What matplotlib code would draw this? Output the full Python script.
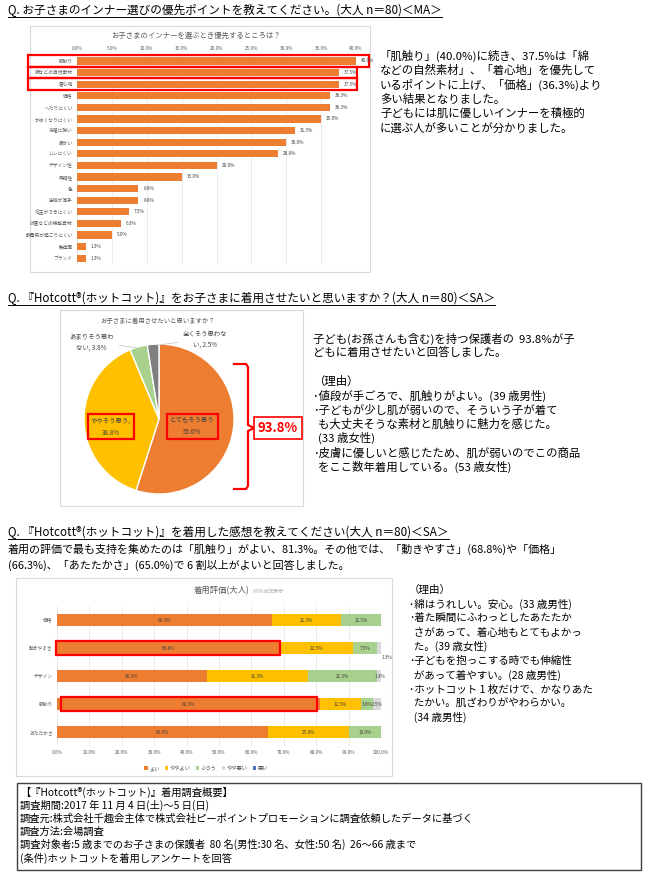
import matplotlib
matplotlib.use('Agg')
import matplotlib.pyplot as plt
from matplotlib.patches import Rectangle
import numpy as np

plt.rcParams['font.family'] = ['Noto Sans CJK JP', 'DejaVu Sans']

# ---------------- data ----------------
cats1 = ['肌触り', '綿などの自然素材', '着心地', '価格', 'へたりにくい', 'かゆくなりにくい',
         '洗濯に強い', '暖かい', 'ムレにくい', 'デザイン性', '伸縮性', '色', '生地が薄手',
         '毛玉ができにくい', '抗菌などの機能素材', '静電気が起こりにくい', '製造国', 'ブランド']
vals1 = [40.0, 37.5, 37.5, 36.3, 36.3, 35.0, 31.3, 30.0, 28.8, 20.0, 15.0, 8.8, 8.8,
         7.5, 6.3, 5.0, 1.3, 1.3]
ticks1 = [0, 5, 10, 15, 20, 25, 30, 35, 40]

pie_labels = ['とてもそう思う', 'ややそう思う', 'あまりそう思わない', '全くそう思わない']
pie_vals = [55.0, 38.8, 3.8, 2.5]

cats3 = ['価格', '動きやすさ', 'デザイン', '肌触り', 'あたたかさ']
series3 = ['よい', 'ややよい', 'ふつう', 'やや悪い', '悪い']
good = [66.3, 68.8, 46.3, 81.3, 65.0]
fairly_good = [21.3, 22.5, 31.3, 12.5, 25.0]
normal = [12.5, 7.5, 21.3, 3.8, 10.0]
fairly_bad = [0.0, 1.3, 1.3, 2.5, 0.0]
bad = [0.0, 0.0, 0.0, 0.0, 0.0]
ticks3 = [0, 10, 20, 30, 40, 50, 60, 70, 80, 90, 100]

ORANGE = '#ED7D31'
YELLOW = '#FFC000'
GREEN = '#A9D18E'
LGRAY = '#D9D9D9'
BLUE = '#4472C4'
DGRAY = '#7F7F7F'

W, H = 650, 894
fig = plt.figure(figsize=(6.5, 8.94), dpi=100)

def ax_px(x, y, w, h, **kw):
    return fig.add_axes([x / W, 1 - (y + h) / H, w / W, h / H], **kw)

# overlay in pixel coordinates
ov = ax_px(0, 0, W, H, zorder=0)
ov.set_xlim(0, W)
ov.set_ylim(H, 0)
ov.axis('off')

def txt(x, y, s, size=7.2, **kw):
    return ov.text(x, y, s, fontsize=size, va='center', ha=kw.pop('ha', 'left'),
                   color=kw.pop('color', '#000000'), **kw)

def box(x0, y0, x1, y1, ec='#D9D9D9', lw=0.8):
    ov.add_patch(Rectangle((x0, y0), x1 - x0, y1 - y0, fill=False, ec=ec, lw=lw))

underlined = []
HEAD = 8.4

# ---------------- section 1 ----------------
underlined.append(txt(8, 10, 'Q. お子さまのインナー選びの優先ポイントを教えてください。(大人 n＝80)＜MA＞', HEAD))
box(30, 26, 370, 272)
txt(196, 36, 'お子さまのインナーを選ぶとき優先するところは？', 5.3, ha='center', color='#595959')

ax1 = ax_px(77, 55.2, 279, 208.8)
y1 = np.arange(len(cats1))
ax1.barh(y1, vals1, height=0.62, color=ORANGE)
ax1.set_ylim(len(cats1) - 0.5, -0.5)
ax1.set_xlim(0, 40)
ax1.xaxis.tick_top()
ax1.set_xticks(ticks1)
ax1.set_xticklabels([f'{t:.1f}%' for t in ticks1])
ax1.set_yticks(y1)
ax1.set_yticklabels(cats1)
ax1.tick_params(axis='both', length=0, labelsize=3.4, colors='#595959', pad=3)
ax1.grid(axis='x', color='#E3E3E3', lw=0.5)
ax1.set_axisbelow(True)
for s in ax1.spines.values():
    s.set_visible(False)
ax1.patch.set_alpha(0)
for i, v in enumerate(vals1):
    ax1.text(v + 0.7, i, f'{v:.1f}%', fontsize=3.4, va='center', color='#404040')
# highlight boxes
for i, right in zip(range(3), [41.8, 40.2, 40.2]):
    ax1.add_patch(Rectangle((-7.0, i - 0.5), right + 7.0, 1.0, fill=False, ec='#FF0000',
                            lw=1.6, clip_on=False))

lines1 = ['「肌触り」(40.0%)に続き、37.5%は「綿',
          'などの自然素材」、「着心地」を優先して',
          'いるポイントに上げ、「価格」(36.3%)より',
          '多い結果となりました。',
          '子どもには肌に優しいインナーを積極的',
          'に選ぶ人が多いことが分かりました。']
for k, s in enumerate(lines1):
    txt(380, 56 + 14.4 * k, s, 8.2)

# ---------------- section 2 ----------------
underlined.append(txt(8, 298, 'Q. 『Hotcott®(ホットコット)』をお子さまに着用させたいと思いますか？(大人 n＝80)＜SA＞', HEAD))
box(60, 310, 303, 506)
txt(158, 321, 'お子さまに着用させたいと思いますか？', 4.6, ha='center', color='#595959')

ax2 = ax_px(84, 344, 150, 150)
wedges, _ = ax2.pie(pie_vals, colors=[ORANGE, YELLOW, GREEN, DGRAY], startangle=90,
                    counterclock=False, radius=1.0,
                    wedgeprops=dict(edgecolor='white', linewidth=1.0))
ax2.set_xlim(-1, 1)
ax2.set_ylim(-1, 1)
ax2.set_aspect('equal')
cum = np.cumsum([0] + pie_vals)
mids = [90 - 3.6 * (cum[i] + pie_vals[i] / 2) for i in range(4)]
# inner labels
inner_r = [0.45, 0.64]
inner_dy = [-0.03, -0.08]
for i in range(2):
    a = np.deg2rad(mids[i])
    x, y = inner_r[i] * np.cos(a), inner_r[i] * np.sin(a) + inner_dy[i]
    lab = pie_labels[i] + (',' if i == 1 else '') + f'\n{pie_vals[i]:.1f}%'
    ax2.text(x, y, lab, fontsize=4.6, ha='center', va='center', color='#404040',
             linespacing=1.6,
             bbox=dict(boxstyle='square,pad=0.45', fc='none', ec='#FF0000', lw=1.6))
# outer labels
outer_xy = [(-0.9, 1.03), (0.62, 1.07)]
outer_txt = ['あまりそう思わ\nない, 3.8%', '全くそう思わな\nい, 2.5%']
for j, i in enumerate([2, 3]):
    a = np.deg2rad(mids[i])
    ax2.annotate(outer_txt[j], xy=(0.98 * np.cos(a), 0.98 * np.sin(a)), xytext=outer_xy[j],
                 fontsize=4.6, ha='center', va='center', color='#404040', linespacing=1.5,
                 annotation_clip=False,
                 arrowprops=dict(arrowstyle='-', color='#BFBFBF', lw=0.5))

# brace and total
ov.plot([234, 246, 248, 248, 254, 248, 248, 246, 234],
        [364, 364, 367, 425, 428, 431, 486, 489, 489], color='#FF0000', lw=1.6)
ov.text(278, 428, '93.8%', fontsize=9.5, fontweight='bold', color='#FF0000', ha='center',
        va='center', bbox=dict(boxstyle='square,pad=0.3', fc='white', ec='#FF0000', lw=1.2))

lines2 = ['子ども(お孫さんも含む)を持つ保護者の  93.8%が子',
          'どもに着用させたいと回答しました。',
          '',
          '（理由）',
          '･値段が手ごろで、肌触りがよい。(39 歳男性)',
          '･子どもが少し肌が弱いので、そういう子が着て',
          '  も大丈夫そうな素材と肌触りに魅力を感じた。',
          '  (33 歳女性)',
          '･皮膚に優しいと感じたため、肌が弱いのでこの商品',
          '  をここ数年着用している。(53 歳女性)']
for k, s in enumerate(lines2):
    txt(313, 339 + 14.2 * k, s, 8.2)

# ---------------- section 3 ----------------
underlined.append(txt(8, 532, 'Q. 『Hotcott®(ホットコット)』を着用した感想を教えてください(大人 n＝80)＜SA＞', HEAD))
txt(8, 549, '着用の評価で最も支持を集めたのは「肌触り」がよい、81.3%。その他では、「動きやすさ」(68.8%)や「価格」', 7.9)
txt(8, 565, '(66.3%)、「あたたかさ」(65.0%)で 6 割以上がよいと回答しました。', 7.9)
box(16, 578, 392, 776)
txt(250, 591, '着用評価(大人)', 6.0, ha='right', color='#595959')
txt(251, 591, '※0%は非表示', 3.6, color='#A6A6A6')

ax3 = ax_px(57, 606, 324, 140)
y3 = np.arange(len(cats3))
left = np.zeros(len(cats3))
all_series = [good, fairly_good, normal, fairly_bad, bad]
cols = [ORANGE, YELLOW, GREEN, LGRAY, BLUE]
for name, vals, c in zip(series3, all_series, cols):
    vals = np.array(vals)
    ax3.barh(y3, vals, left=left, height=0.42, color=c, label=name)
    for i, v in enumerate(vals):
        if v > 0:
            dx, dy = 0, 0
            if v < 2 and i == 1:
                dx, dy = 2.5, 0.35
            ax3.text(left[i] + v / 2 + dx, i + dy, f'{v:.1f}%', fontsize=3.4,
                     ha='center', va='center', color='#404040')
    left = left + vals
ax3.set_ylim(len(cats3) - 0.5, -0.5)
ax3.set_xlim(0, 100)
ax3.set_xticks(ticks3)
ax3.set_xticklabels([f'{t:.1f}%' for t in ticks3])
ax3.set_yticks(y3)
ax3.set_yticklabels(cats3)
ax3.tick_params(axis='both', length=0, labelsize=3.4, colors='#595959', pad=3)
ax3.grid(axis='x', color='#E3E3E3', lw=0.5)
ax3.set_axisbelow(True)
for s in ax3.spines.values():
    s.set_visible(False)
ax3.patch.set_alpha(0)
for i, x0, right in [(1, -0.4, 68.8), (3, 1.2, 80.3)]:
    ax3.add_patch(Rectangle((x0, i - 0.25), right - x0, 0.5, fill=False, ec='#FF0000',
                            lw=1.6, clip_on=False))
ax3.legend(loc='center', bbox_to_anchor=(0.46, -0.16), ncol=5, frameon=False,
           fontsize=3.8, handlelength=0.7, handleheight=0.7, handletextpad=0.2,
           columnspacing=1.0, labelcolor='#595959')

lines3 = ['（理由）',
          '･綿はうれしい。安心。(33 歳男性)',
          '･着た瞬間にふわっとしたあたたか',
          '  さがあって、着心地もとてもよかっ',
          '  た。(39 歳女性)',
          '･子どもを抱っこする時でも伸縮性',
          '  があって着やすい。(28 歳男性)',
          '･ホットコット 1 枚だけで、かなりあた',
          '  たかい。肌ざわりがやわらかい。',
          '  (34 歳男性)']
for k, s in enumerate(lines3):
    txt(409, 590 + 14.2 * k, s, 7.6)

# ---------------- summary box ----------------
box(17, 783, 641, 870, ec='#404040', lw=1.0)
lines4 = ['【『Hotcott®(ホットコット)』着用調査概要】',
          '調査期間:2017 年 11 月 4 日(土)～5 日(日)',
          '調査元:株式会社千趣会主体で株式会社ピーポイントプロモーションに調査依頼したデータに基づく',
          '調査方法:会場調査',
          '調査対象者:5 歳までのお子さまの保護者  80 名(男性:30 名、女性:50 名)  26～66 歳まで',
          '(条件)ホットコットを着用しアンケートを回答']
for k, s in enumerate(lines4):
    txt(20, 792 + 13.2 * k, s, 7.4)

# underlines
fig.canvas.draw()
r = fig.canvas.get_renderer()
inv = ov.transData.inverted()
for t in underlined:
    bb = t.get_window_extent(r)
    (xa, ya), (xb, yb) = inv.transform([(bb.x0, bb.y0), (bb.x1, bb.y1)])
    ov.plot([xa, xb], [ya + 0.5, ya + 0.5], color='#000000', lw=0.7)

fig.savefig('out.png', dpi=100, facecolor='white')
